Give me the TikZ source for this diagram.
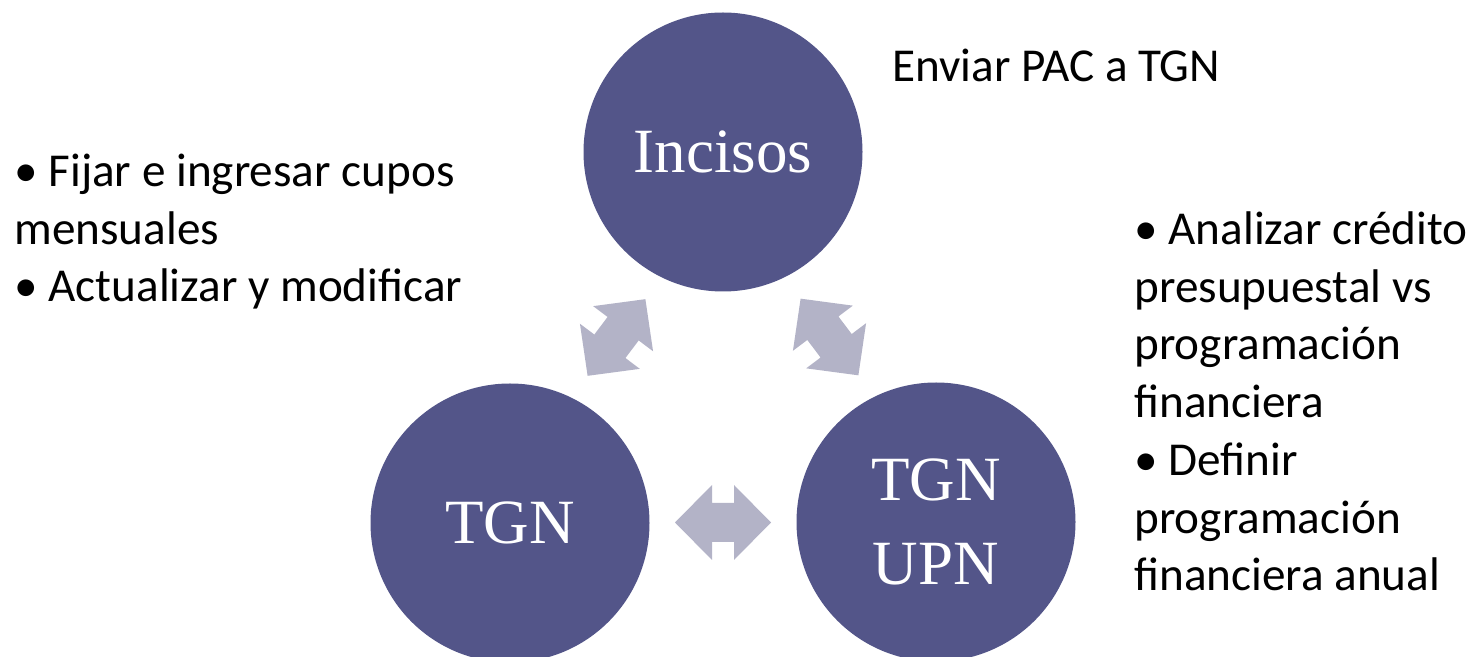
\documentclass[tikz,border=0pt]{standalone}
\usepackage{fontspec}
\setmainfont{Liberation Serif}
\newfontfamily\notefont{Carlito}
\usetikzlibrary{calc}

\definecolor{discfill}{RGB}{83,85,137}
\definecolor{arrowfill}{RGB}{179,179,199}

\begin{document}
\begin{tikzpicture}[x=0.5pt, y=-0.5pt,
    disc/.style={circle, fill=discfill, minimum size=139.5pt, inner sep=0pt,
        text=white, align=center, font=\fontsize{31.5}{42}\selectfont},
    note/.style={inner sep=0pt, align=left,
        font=\notefont\fontsize{23.6}{28.9}\selectfont},
    dblarrow/.pic={
        \fill[arrowfill] (-48,0) -- (-11,-37.5) -- (-11,-19.5) -- (11,-19.5)
            -- (11,-37.5) -- (48,0) -- (11,37.5) -- (11,19.5) -- (-11,19.5)
            -- (-11,37.5) -- cycle;
    }]

    % Fix the page to the size of the slide
    \useasboundingbox (0,0) rectangle (1469,657);

    % The three circles of the cycle
    \node[disc] (inc) at (723,152) {Incisos};
    \node[disc] (tgn) at (510,523) {TGN};
    \node[disc] (upn) at (936,522) {TGN\\UPN};

    % Double arrows between the circles
    \pic[rotate=53] at ($(tgn)!0.5!(inc)$) {dblarrow};
    \pic[rotate=-53] at ($(inc)!0.5!(upn)$) {dblarrow};
    \pic at ($(tgn)!0.5!(upn)$) {dblarrow};

    % Notes beside the circles (base is the last line)
    \node[note, anchor=base west] (enviar) at (892,82) {Enviar PAC a TGN};
    \node[note, anchor=base west] (cupos) at (14,302)
        {\textbullet\ Fijar e ingresar cupos\\mensuales\\\textbullet\ Actualizar y modificar};
    \node[note, anchor=base west] (credito) at (1134,591)
        {\textbullet\ Analizar crédito\\presupuestal vs\\programación\\financiera\\
         \textbullet\ Definir\\programación\\financiera anual};

\end{tikzpicture}
\end{document}
